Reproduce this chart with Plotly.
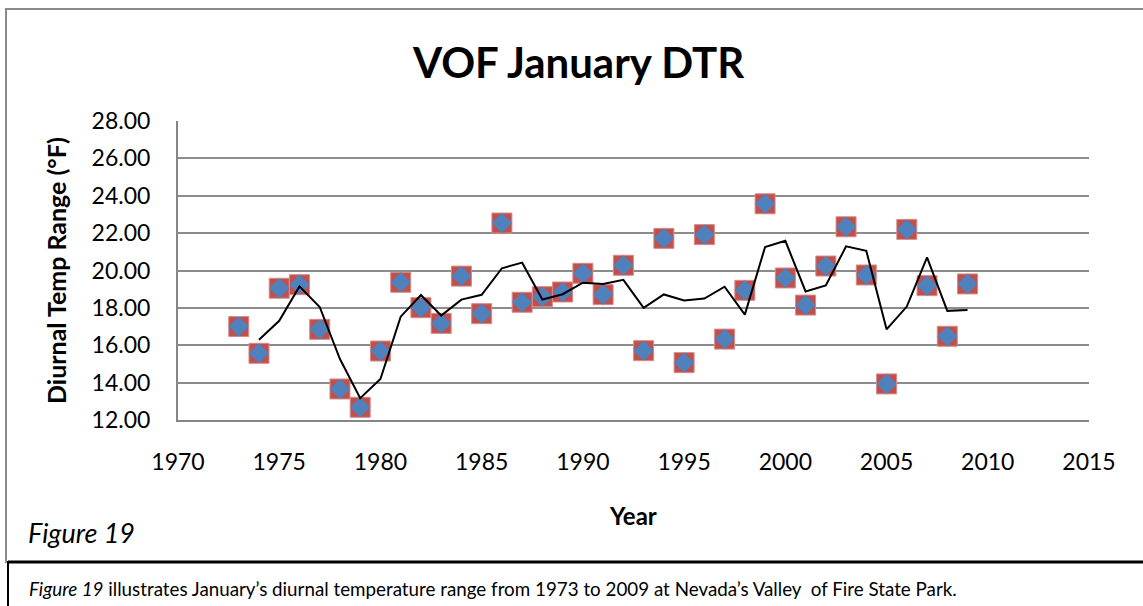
import plotly.graph_objects as go

# ---- data ----
years = list(range(1973, 2010))
dtr = [17.00, 15.57, 19.05, 19.24, 16.85, 13.66, 12.68, 15.69, 19.37, 18.01,
       17.17, 19.70, 17.69, 22.54, 18.30, 18.60, 18.85, 19.85, 18.71, 20.28,
       15.71, 21.72, 15.07, 21.92, 16.33, 18.94, 23.57, 19.60, 18.15, 20.24,
       22.34, 19.76, 13.93, 22.20, 19.19, 16.48, 19.28]
ma_years = list(range(1974, 2010))
ma_values = [16.29, 17.31, 19.15, 18.05, 15.26, 13.17, 14.19, 17.53, 18.69, 17.59,
             18.44, 18.70, 20.12, 20.42, 18.45, 18.73, 19.35, 19.28, 19.50, 18.00,
             18.72, 18.40, 18.50, 19.13, 17.64, 21.26, 21.59, 18.88, 19.20, 21.29,
             21.05, 16.85, 18.07, 20.70, 17.84, 17.88]
x_ticks = [1970, 1975, 1980, 1985, 1990, 1995, 2000, 2005, 2010, 2015]
y_ticks = [12, 14, 16, 18, 20, 22, 24, 26, 28]
y_tick_labels = ["12.00", "14.00", "16.00", "18.00", "20.00", "22.00", "24.00", "26.00", "28.00"]

W, H = 1143, 606
PL, PR, PT, PB = 178, 1089, 121, 420
FONT = "Lato"


def px(x):
    return (x - PL) / (PR - PL)


def py(y):
    return (PB - y) / (PB - PT)


fig = go.Figure()
fig.add_trace(go.Scatter(x=years, y=dtr, mode="markers",
                         marker=dict(symbol="square", size=20, color="#C0504D",
                                     line=dict(color="#D98A88", width=1)),
                         showlegend=False, hoverinfo="skip"))
fig.add_trace(go.Scatter(x=years, y=dtr, mode="markers",
                         marker=dict(symbol="diamond", size=15.5, color="#4F81BD",
                                     line=dict(width=0)),
                         showlegend=False))
fig.add_trace(go.Scatter(x=ma_years, y=ma_values, mode="lines",
                         line=dict(color="black", width=2),
                         showlegend=False))

fig.update_layout(
    width=W, height=H, autosize=False,
    margin=dict(l=PL, r=W - PR, t=PT, b=H - PB, pad=0),
    paper_bgcolor="white", plot_bgcolor="white",
    font=dict(family=FONT, color="black"),
    xaxis=dict(range=[1970, 2015], tickvals=x_ticks, ticktext=[str(v) for v in x_ticks],
               showgrid=False, zeroline=False, showline=True, linecolor="#868686",
               linewidth=2, ticks="", tickfont=dict(size=23, family=FONT),
               ticklabelstandoff=20),
    yaxis=dict(range=[12, 28], tickvals=y_ticks, ticktext=y_tick_labels,
               showgrid=True, gridcolor="#8C8C8C", gridwidth=1.5, zeroline=False,
               showline=True, linecolor="#868686", linewidth=2, ticks="",
               tickfont=dict(size=23, family=FONT), ticklabelstandoff=21),
)

shapes = [
    # chart frame
    dict(type="rect", xref="paper", yref="paper", x0=px(6), x1=px(1160), y0=py(9), y1=py(562),
         line=dict(color="#8A8A8A", width=2), layer="below"),
    # caption box
    dict(type="rect", xref="paper", yref="paper", x0=px(8), x1=px(1160), y0=py(562), y1=py(620),
         line=dict(color="black", width=2), layer="above"),
    dict(type="line", xref="paper", yref="paper", x0=px(8), x1=px(1160), y0=py(562), y1=py(562),
         line=dict(color="black", width=3)),
]
fig.update_layout(shapes=shapes)

annotations = [
    dict(text="<b>VOF January DTR</b>", x=px(578), y=py(62), font=dict(size=42, family=FONT),
         xanchor="center", yanchor="middle"),
    dict(text="<b>Diurnal Temp Range (°F)</b>", x=px(56), y=py(271), textangle=-90,
         font=dict(size=25, family=FONT), xanchor="center", yanchor="middle"),
    dict(text="<b>Year</b>", x=px(633), y=py(515), font=dict(size=24, family=FONT),
         xanchor="center", yanchor="middle"),
    dict(text="<i>Figure 19</i>", x=px(26), y=py(532), font=dict(size=27, family=FONT),
         xanchor="left", yanchor="middle"),
    dict(text="<i>Figure 19</i> illustrates January’s diurnal temperature range from 1973 to 2009 "
              "at Nevada’s Valley  of Fire State Park.",
         x=px(27), y=py(588), font=dict(size=18.8, family=FONT), xanchor="left", yanchor="middle"),
]
for a in annotations:
    a.update(xref="paper", yref="paper", showarrow=False)
fig.update_layout(annotations=annotations)

fig.write_html("out.html", config={"displayModeBar": False},
               post_script="document.body.style.margin='0px';")
